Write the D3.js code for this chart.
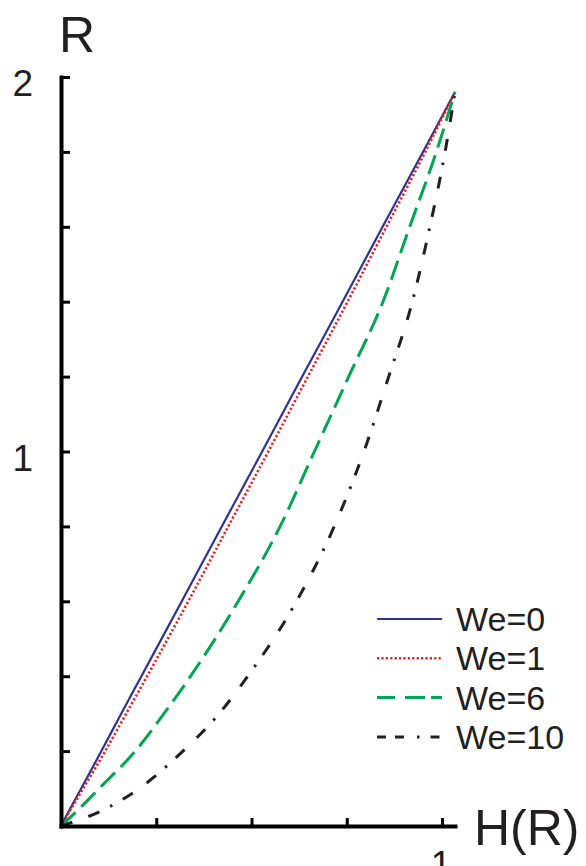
<!DOCTYPE html>
<html>
<head>
<meta charset="utf-8">
<script src="https://cdn.jsdelivr.net/npm/d3@7"></script>
<style>
  body { margin: 0; background: #fff; }
  text { font-family: "Liberation Sans", Arial, sans-serif; fill: #231f20; }
</style>
</head>
<body>
<div id="graph"></div>
<script>
// R values shared by every curve, H(R) for each We
const rValues = [0, 0.05, 0.1, 0.2, 0.3, 0.4, 0.6, 0.8, 1.0, 1.2, 1.4, 1.6, 1.8, 1.96];
const hWe0  = [0, 0.026, 0.053, 0.106, 0.158, 0.211, 0.317, 0.422, 0.528, 0.633, 0.739, 0.844, 0.950, 1.034];
const hWe1  = [0, 0.029, 0.058, 0.116, 0.171, 0.226, 0.334, 0.439, 0.544, 0.648, 0.752, 0.854, 0.956, 1.034];
const hWe6  = [0, 0.052, 0.100, 0.195, 0.270, 0.340, 0.465, 0.575, 0.665, 0.755, 0.845, 0.915, 0.985, 1.034];
const hWe10 = [0, 0.125, 0.205, 0.320, 0.415, 0.490, 0.618, 0.717, 0.795, 0.860, 0.922, 0.968, 1.008, 1.034];
const seriesNames = ["We=0", "We=1", "We=6", "We=10"];
const xTicks = [0.25, 0.5, 0.75, 1];
const yTicks = [0.2, 0.4, 0.6, 0.8, 1, 1.2, 1.4, 1.6, 1.8, 2];

const width = 586, height = 866;
let x = d3.scaleLinear().domain([0, 1.034]).range([61, 455]);
let y = d3.scaleLinear().domain([0, 2]).range([826, 77]);

let svg = d3.select("#graph").append("svg").attr("width", width).attr("height", height);

let series = [
  {name: seriesNames[0], h: hWe0,  color: "#2b3590", w: 2.2, dash: null},
  {name: seriesNames[1], h: hWe1,  color: "#ed1c24", w: 2.6, dash: "2.2,2.2"},
  {name: seriesNames[2], h: hWe6,  color: "#00a650", w: 3, dash: "20,8"},
  {name: seriesNames[3], h: hWe10, color: "#231f20", w: 3, dash: "12,17,12,12,2.5,12"}
];

let line = d3.line()
  .x(d => x(d[0]))
  .y(d => y(d[1]))
  .curve(d3.curveMonotoneX);

series.forEach(s => {
  svg.append("path")
    .datum(s.h.map((h, i) => [h, rValues[i]]))
    .attr("fill", "none")
    .attr("stroke", s.color)
    .attr("stroke-width", s.w)
    .attr("stroke-dasharray", s.dash)
    .attr("d", line);
});

// axes
let yAxis = d3.axisLeft(y).tickValues(yTicks).tickSizeInner(-9).tickSizeOuter(0).tickPadding(28)
  .tickFormat(d => (d === 1 || d === 2) ? d : "");
let xAxis = d3.axisBottom(x).tickValues(xTicks).tickSizeInner(-8).tickSizeOuter(0).tickPadding(25)
  .tickFormat(d => d === 1 ? d : "");

let gy = svg.append("g").attr("transform", "translate(61,0)").call(yAxis);
let gx = svg.append("g").attr("transform", "translate(0,826)").call(xAxis);

[gy, gx].forEach(g => {
  g.select(".domain").attr("stroke", "#000").attr("stroke-width", 4).attr("stroke-linecap", "square");
  g.selectAll(".tick line").attr("stroke", "#000").attr("stroke-width", 3);
  g.selectAll(".tick text").attr("font-size", 37).attr("font-family", "Liberation Sans, Arial, sans-serif").attr("fill", "#231f20");
});
gy.selectAll(".tick text").attr("dy", "0.5em");
gx.selectAll(".tick text").attr("dx", "-0.04em");

// axis titles
svg.append("text").attr("x", 59).attr("y", 52).attr("font-size", 50).text("R");
svg.append("text").attr("x", 474).attr("y", 845).attr("font-size", 50).text("H(R)");

// legend
let legend = svg.append("g");
series.forEach((s, i) => {
  let ly = 619 + i * 39.3;
  legend.append("line")
    .attr("x1", 377).attr("x2", 442).attr("y1", ly).attr("y2", ly)
    .attr("stroke", s.color).attr("stroke-width", s.w)
    .attr("stroke-dasharray", i === 3 ? "9,9,9,13,2.5,11" : (i === 2 ? "18,10,20,6" : s.dash));
  legend.append("text").attr("x", 456).attr("y", ly + 12).attr("font-size", 34).text(s.name);
});
</script>
</body>
</html>
